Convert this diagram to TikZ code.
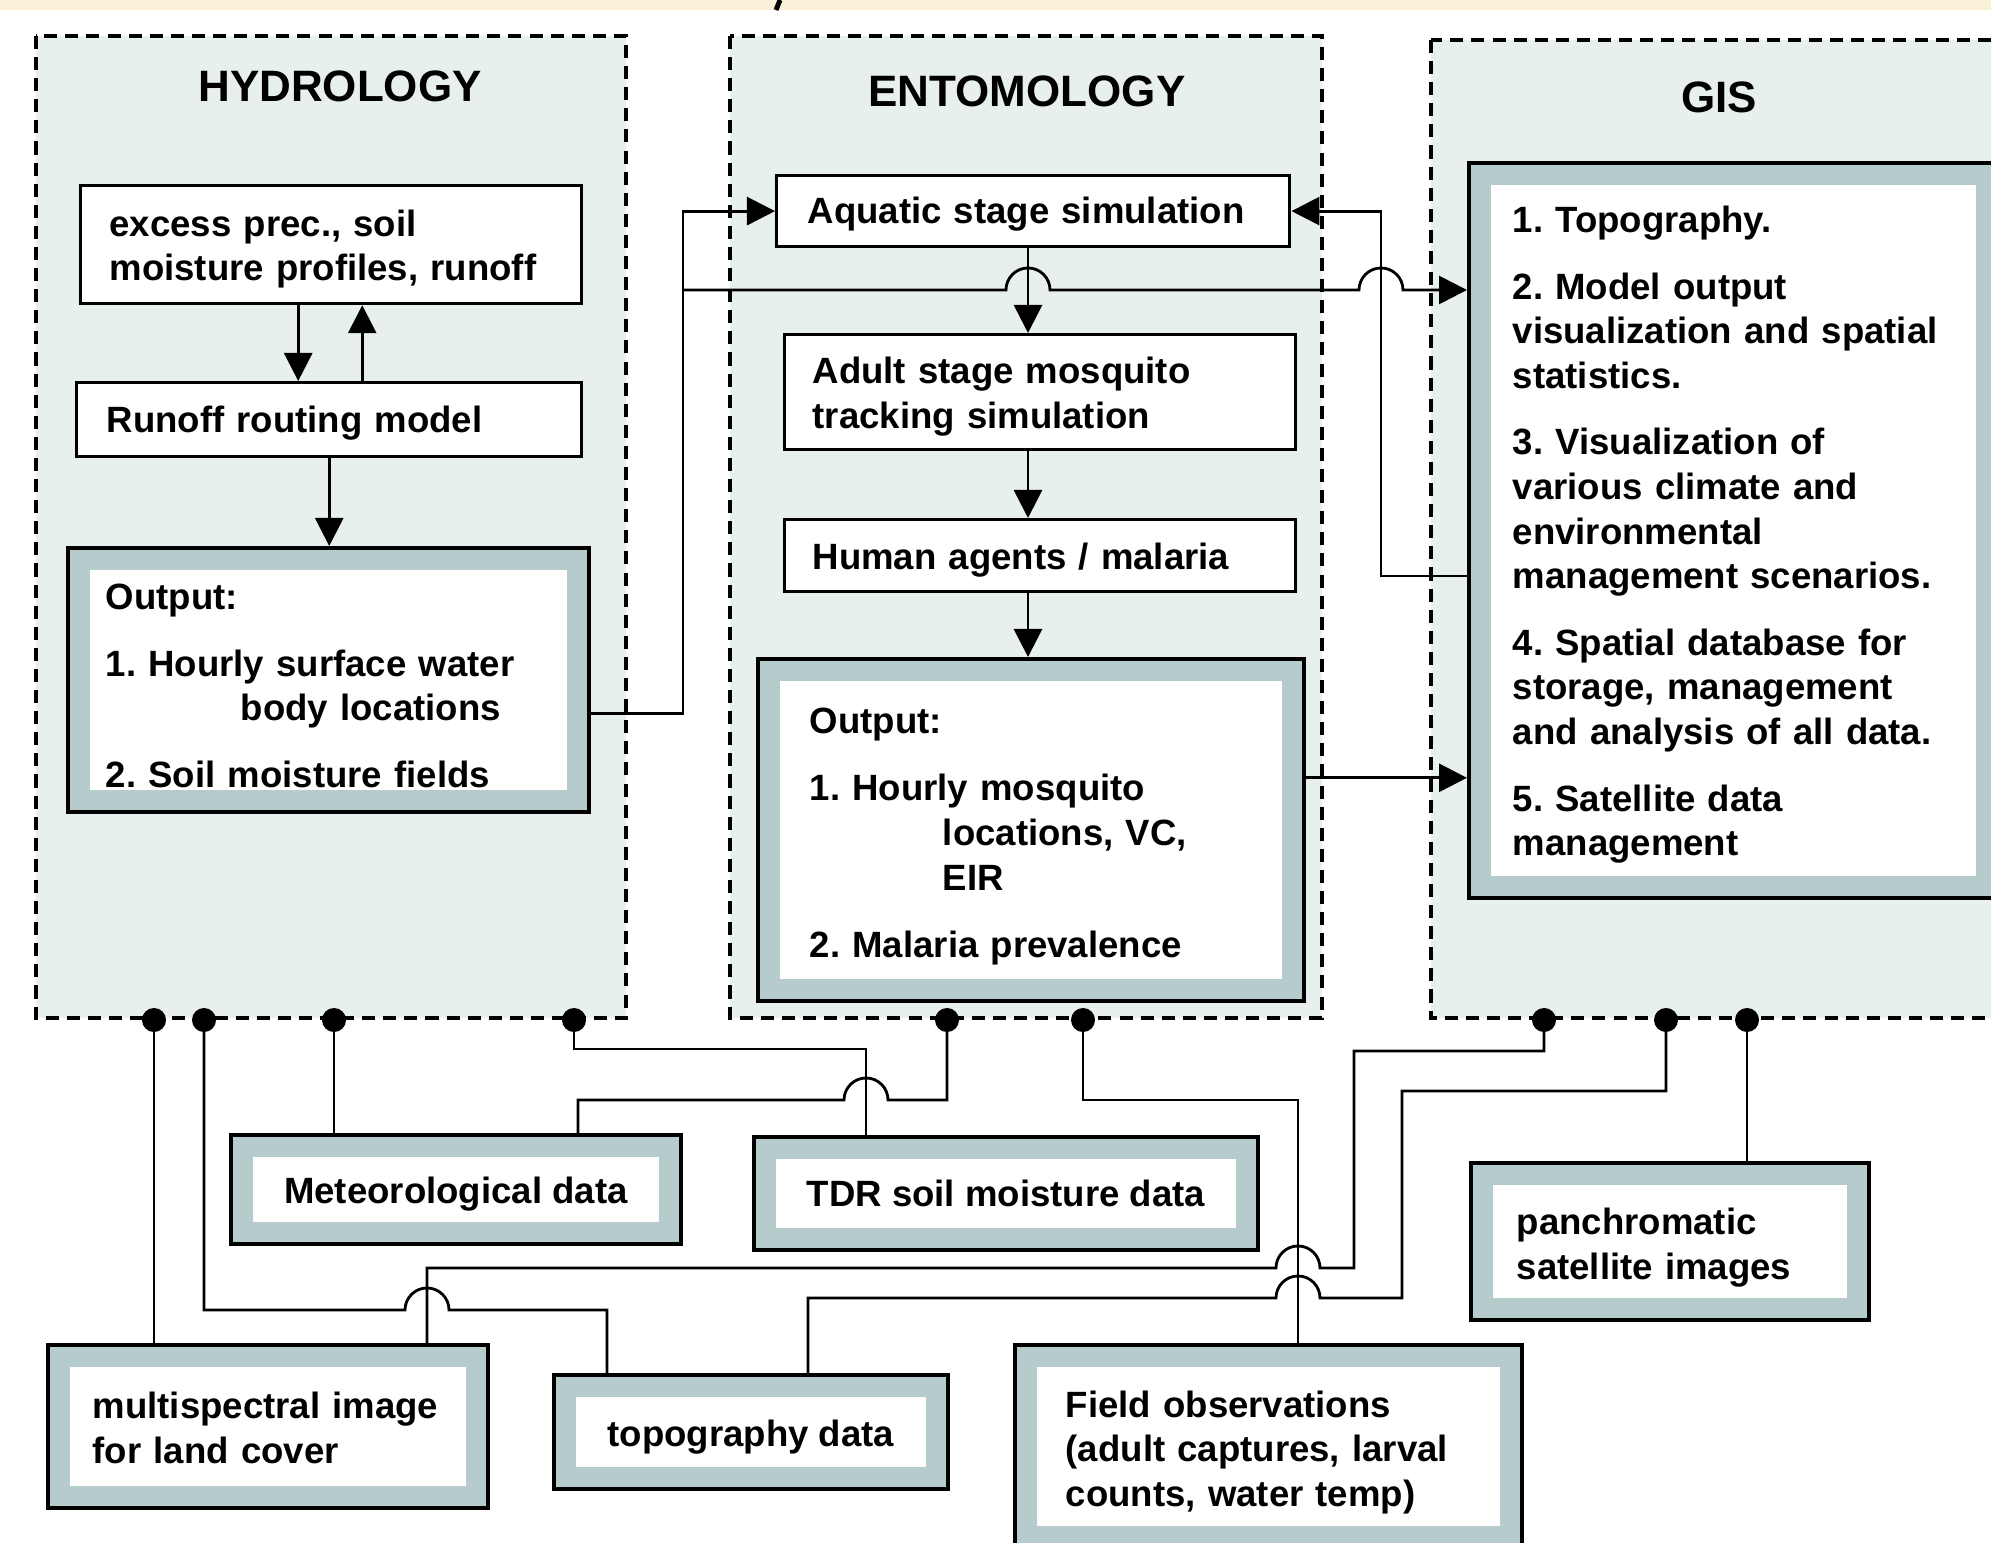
\documentclass[tikz,border=0pt]{standalone}
\usepackage{fontspec}
\setmainfont{Liberation Sans}
\usetikzlibrary{arrows.meta}
\definecolor{grpfill}{HTML}{E8F0EF}
\definecolor{framegray}{HTML}{B6CBCC}
\definecolor{band}{HTML}{FBF0D8}
\frenchspacing

\begin{document}
\begin{tikzpicture}[x=0.01cm,y=-0.01cm,
    txt/.style={font=\fontsize{10.4}{12.7}\selectfont\bfseries},
    sink/.style={execute at begin node={\rule{0pt}{#1}}},
    simbox/.style={txt,draw,line width=0.9pt,fill=white,anchor=north west,align=left,inner sep=0pt},
    outbox/.style={txt,draw,line width=1pt,fill=framegray,anchor=north west,align=left,inner sep=0pt,
      path picture={\fill[white] ([shift={(2.2mm,2.2mm)}]path picture bounding box.south west)
        rectangle ([shift={(-2.2mm,-2.2mm)}]path picture bounding box.north east);}},
    grp/.style={draw,fill=grpfill,line width=1pt,dash pattern=on 3.7pt off 2.3pt},
    title/.style={font=\fontsize{12.5}{15}\selectfont\bfseries},
    conn/.style={line width=0.8pt},
    arr/.style={conn,-{Triangle[length=2.8mm,width=2.8mm]}}]

  \useasboundingbox (0,0) rectangle (1991,1543);
  \fill[white] (0,0) rectangle (1991,1543);
  \fill[band] (0,0) rectangle (1991,10);
  \draw[line width=1.4pt] (780,0) -- (776,10);

  % the three groups
  \draw[grp] (36,36) rectangle (626,1018);
  \draw[grp] (730,36) rectangle (1322,1018);
  \draw[grp] (1431,40) rectangle (2020,1018);
  \node[title] (thyd) at (340,86) {HYDROLOGY};
  \node[title] (tent) at (1027,91) {ENTOMOLOGY};
  \node[title] (tgis) at (1719,97) {GIS};

  % hydrology
  \node[simbox,sink=10pt,minimum width=5.01cm,minimum height=1.18cm,text width=4.43cm] (exc) at (79,184)
    {excess prec., soil\\moisture profiles, runoff};
  \node[simbox,sink=9.5pt,minimum width=5.05cm,minimum height=0.74cm,text width=4.45cm] (run) at (75,381)
    {Runoff routing model};
  \node[outbox,sink=10.5pt,minimum width=5.21cm,minimum height=2.64cm,text width=4.45cm] (hout) at (66,546)
    {Output:\\[6.4pt]1. Hourly surface water\\\hspace*{1.35cm}body locations\\[6.1pt]2. Soil moisture fields};

  % entomology
  \node[simbox,sink=9.5pt,minimum width=5.13cm,minimum height=0.71cm,text width=4.51cm] (aqu) at (775,174)
    {Aquatic stage simulation};
  \node[simbox,sink=10pt,minimum width=5.11cm,minimum height=1.15cm,text width=4.55cm] (adu) at (783,333)
    {Adult stage mosquito\\tracking simulation};
  \node[simbox,sink=10pt,minimum width=5.11cm,minimum height=0.72cm,text width=4.55cm] (hum) at (783,518)
    {Human agents / malaria};
  \node[outbox,sink=11pt,minimum width=5.46cm,minimum height=3.42cm,text width=4.42cm] (eout) at (756,657)
    {Output:\\[6.4pt]1. Hourly mosquito\\\hspace*{1.33cm}locations, VC,\\\hspace*{1.33cm}EIR\\[6.4pt]2. Malaria prevalence};

  % gis
  \node[outbox,sink=10pt,minimum width=5.29cm,minimum height=7.35cm,text width=4.41cm] (gis) at (1467,161)
    {1. Topography.\\[6.2pt]2. Model output\\visualization and spatial\\statistics.\\[6.2pt]3. Visualization of\\various climate and\\environmental\\management scenarios.\\[6.2pt]4. Spatial database for\\storage, management\\and analysis of all data.\\[6.2pt]5. Satellite data\\management};

  % data sources
  \node[outbox,sink=10.5pt,align=center,minimum width=4.50cm,minimum height=1.09cm] (met) at (229,1133) {Meteorological data};
  \node[outbox,align=center,minimum width=5.04cm,minimum height=1.13cm] (tdr) at (752,1135) {TDR soil moisture data};
  \node[outbox,sink=8.5pt,minimum width=4.40cm,minimum height=1.63cm,text width=3.50cm] (multi) at (46,1343)
    {multispectral image\\for land cover};
  \node[outbox,sink=10.5pt,align=center,minimum width=3.94cm,minimum height=1.14cm] (topo) at (552,1373) {topography data};
  \node[outbox,sink=11pt,minimum width=5.07cm,minimum height=2.03cm,text width=4.05cm] (field) at (1013,1343)
    {Field observations\\(adult captures, larval\\counts, water temp)};
  \node[outbox,sink=11pt,minimum width=3.98cm,minimum height=1.57cm,text width=3.06cm] (pan) at (1469,1161)
    {panchromatic\\satellite images};

  % model links
  \draw[arr] ([xshift=-3.3mm]exc.south) -- ([xshift=-3.3mm]exc.south |- run.north);
  \draw[arr] ([xshift=3.1mm]exc.south |- run.north) -- ([xshift=3.1mm]exc.south);
  \draw[arr] (run.south) -- (run.south |- hout.north);

  \coordinate (bend) at (683,290);
  \coordinate (gturn) at (1381,576);
  \coordinate (ax) at (1028,0);
  \draw[arr] ([yshift=-3.4mm]hout.east) -| (bend) |- (aqu.west);
  \draw[arr] (bend) -- ([xshift=-2.2mm]ax |- bend) arc[start angle=180,end angle=0,radius=2.2mm]
    -- ([xshift=-2.2mm]gturn |- bend) arc[start angle=180,end angle=0,radius=2.2mm] -- (gis.west |- bend);
  \draw[arr] (gis.west |- gturn) -- (gturn) |- (aqu.east);
  \draw[arr] (aqu.south -| ax) -- (ax |- adu.north);
  \draw[arr] (adu.south -| ax) -- (ax |- hum.north);
  \draw[arr] (hum.south -| ax) -- (ax |- eout.north);
  \draw[arr] ([yshift=5.2mm]eout.east) -- ([yshift=5.2mm]eout.east -| gis.west);

  % data links
  \coordinate (h1) at (154,1020);
  \coordinate (h2) at (204,1020);
  \coordinate (h3) at (334,1020);
  \coordinate (h4) at (574,1020);
  \coordinate (e1) at (947,1020);
  \coordinate (e2) at (1083,1020);
  \coordinate (g1) at (1544,1020);
  \coordinate (g2) at (1666,1020);
  \coordinate (g3) at (1747,1020);
  \coordinate (c2) at (607,1310);
  \coordinate (c4) at (866,1049);
  \coordinate (c5) at (578,1100);
  \coordinate (c6) at (1298,1100);
  \coordinate (c7) at (427,1268);
  \coordinate (c8) at (808,1298);

  \draw[conn] (h1) -- (h1 |- multi.north);
  \draw[conn] (h2) |- (405,1310) arc[start angle=180,end angle=0,radius=2.2mm] -- (c2) -- (c2 |- topo.north);
  \draw[conn] (h3) -- (h3 |- met.north);
  \draw[conn] (h4) |- (c4) -- (c4 |- tdr.north);
  \draw[conn] (c5 |- met.north) -- (c5) -- (844,1100) arc[start angle=180,end angle=0,radius=2.2mm] -- (e1 |- c5) -- (e1);
  \draw[conn] (e2) |- (c6) -- (c6 |- field.north);
  \draw[conn] (g1) |- (1354,1051) |- (1320,1268) arc[start angle=0,end angle=180,radius=2.2mm] -- (c7) -- (c7 |- multi.north);
  \draw[conn] (g2) |- (1402,1091) |- (1320,1298) arc[start angle=0,end angle=180,radius=2.2mm] -- (c8) -- (c8 |- topo.north);
  \draw[conn] (g3) -- (g3 |- pan.north);

  \foreach \d in {h1,h2,h3,h4,e1,e2,g1,g2,g3}
    \fill (\d) circle[radius=1.2mm];
\end{tikzpicture}
\end{document}
